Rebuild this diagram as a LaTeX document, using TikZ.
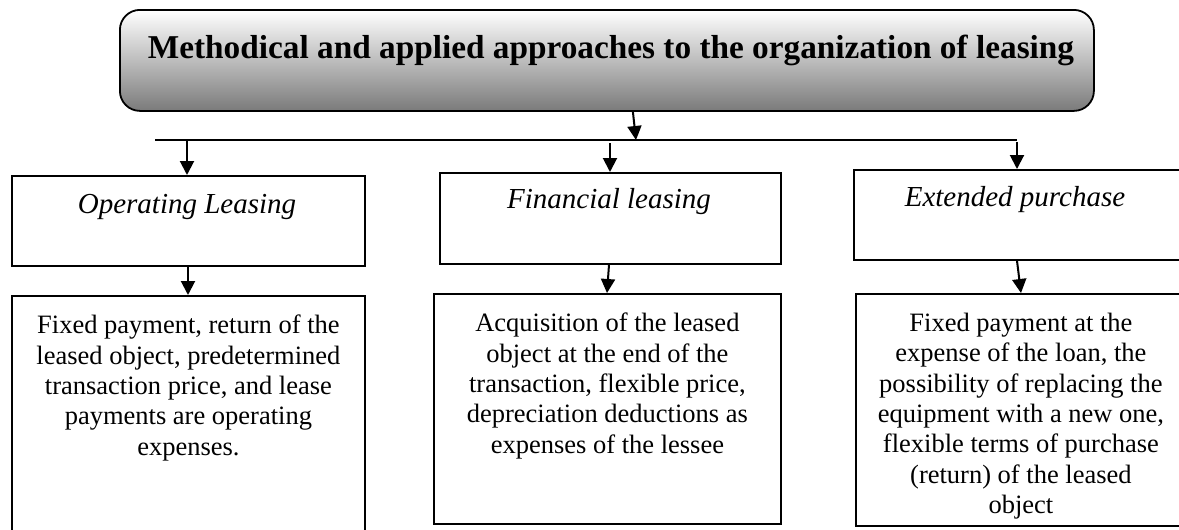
\documentclass[tikz,border=0pt]{standalone}
\usepackage{fontspec}
\setmainfont{Liberation Serif}
\usetikzlibrary{arrows.meta}
\begin{document}
\begin{tikzpicture}[x=1pt,y=-1pt,
  box/.style={draw=black,line width=1.8pt,anchor=north west,inner sep=0pt},
  head/.style={font=\fontsize{29}{34}\selectfont\itshape,inner sep=0pt},
  body/.style={font=\fontsize{26.5}{30.3}\selectfont,align=center,anchor=north,inner sep=0pt},
  arr/.style={line width=2pt,-{Triangle[length=14pt,width=14pt]}},
  bar/.style={line width=1.8pt}]
\useasboundingbox (0,0) rectangle (1179,530);
\begin{scope}
\clip (0,0) rectangle (1179,530);

% title block
\node[draw=black,line width=1.8pt,rounded corners=20pt,top color=white,bottom color=black!52,
  minimum width=974pt,minimum height=101pt,anchor=north west,inner sep=0pt] (top) at (119,9) {};
\node[font=\fontsize{33.3}{38}\selectfont\bfseries,inner sep=0pt] (title) at (611,50)
  {Methodical and applied approaches to the organization of leasing};

% distribution bar
\coordinate (barL) at (155,140);
\coordinate (barR) at (1017,140);
\coordinate (barM) at (636,140);
\draw[bar] (barL) -- (barR);

% first row
\node[box,minimum width=353pt,minimum height=90pt] (op) at (11,175) {};
\node[box,minimum width=341pt,minimum height=91pt] (fin) at (439,172) {};
\node[box,minimum width=330pt,minimum height=90pt] (ext) at (853,169) {};
\node[head] (opT) at (187,207) {Operating Leasing};
\node[head] (finT) at (609,202) {Financial leasing};
\node[head] (extT) at (1015,200) {Extended purchase};

% second row
\node[box,minimum width=353pt,minimum height=260pt] (opD) at (11,295) {};
\node[box,minimum width=347pt,minimum height=230pt] (finD) at (433,293) {};
\node[box,minimum width=330pt,minimum height=232pt] (extD) at (855,293) {};
\node[body] (opDT) at ([yshift=-20pt]opD.north)
  {Fixed payment, return of the\\leased object, predetermined\\transaction price, and lease\\payments are operating\\expenses.};
\node[body] (finDT) at ([yshift=-20pt]finD.north)
  {Acquisition of the leased\\object at the end of the\\transaction, flexible price,\\depreciation deductions as\\expenses of the lessee};
\node[body] (extDT) at ([yshift=-20pt]extD.north)
  {Fixed payment at the\\expense of the loan, the\\possibility of replacing the\\equipment with a new one,\\flexible terms of purchase\\(return) of the leased\\object};

% connectors
\draw[arr] ([xshift=632pt-606pt]top.south) -- (barM);
\draw[arr] (187,140) -- (op.north -| 187,0);
\draw[arr] (610,143) -- (fin.north -| 610,0);
\draw[arr] (1017,142) -- (ext.north -| 1017,0);
\draw[arr] (op.south -| 188,0) -- (opD.north -| 188,0);
\draw[arr] (fin.south -| 609,0) -- (finD.north -| 607,0);
\draw[arr] (ext.south -| 1017,0) -- (extD.north -| 1021,0);
\end{scope}
\end{tikzpicture}
\end{document}
